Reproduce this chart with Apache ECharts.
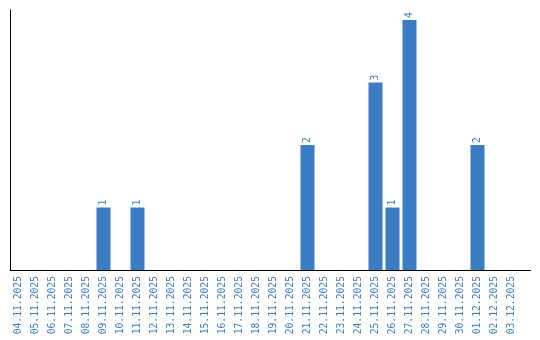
<!DOCTYPE html>
<html>
<head>
<meta charset="utf-8">
<script src="https://cdn.jsdelivr.net/npm/echarts@6/dist/echarts.min.js"></script>
<style>html,body{margin:0;padding:0;background:#fff}#c{width:540px;height:340px}</style>
</head>
<body>
<div id="c"></div>
<script>
const categories = ["04.11.2025","05.11.2025","06.11.2025","07.11.2025","08.11.2025","09.11.2025","10.11.2025","11.11.2025","12.11.2025","13.11.2025","14.11.2025","15.11.2025","16.11.2025","17.11.2025","18.11.2025","19.11.2025","20.11.2025","21.11.2025","22.11.2025","23.11.2025","24.11.2025","25.11.2025","26.11.2025","27.11.2025","28.11.2025","29.11.2025","30.11.2025","01.12.2025","02.12.2025","03.12.2025"];
const values = [0,0,0,0,0,1,0,1,0,0,0,0,0,0,0,0,0,2,0,0,0,3,1,4,0,0,0,2,0,0];

const chart = echarts.init(document.getElementById('c'), null, {renderer:'canvas'});
const blue = '#3b7dc4';
chart.setOption({
  animation:false,
  grid:{left:10, top:10, width:510, height:260, containLabel:false},
  xAxis:{
    type:'category', data:categories, boundaryGap:true,
    axisLine:{show:true, lineStyle:{color:'#000', width:1}},
    axisTick:{show:false},
    axisLabel:{rotate:90, interval:0, margin:6, color:blue, fontFamily:'DejaVu Sans Mono', fontSize:9.7}
  },
  yAxis:{
    type:'value', min:0, max:4.16,
    axisLine:{show:true, lineStyle:{color:'#000', width:1}},
    axisTick:{show:false}, axisLabel:{show:false}, splitLine:{show:false}
  },
  series:[{
    type:'bar', data:values, barWidth:14, itemStyle:{color:blue},
    label:{show:true, position:'top', rotate:90, align:'left', verticalAlign:'middle', distance:2,
      color:blue, fontFamily:'DejaVu Sans Mono', fontSize:9.7,
      formatter:p=>p.value ? String(p.value) : ''}
  }],
  graphic:[{type:'line', shape:{x1:520, y1:270.5, x2:531, y2:270.5}, style:{stroke:'#000', lineWidth:1}}]
});
</script>
</body>
</html>
